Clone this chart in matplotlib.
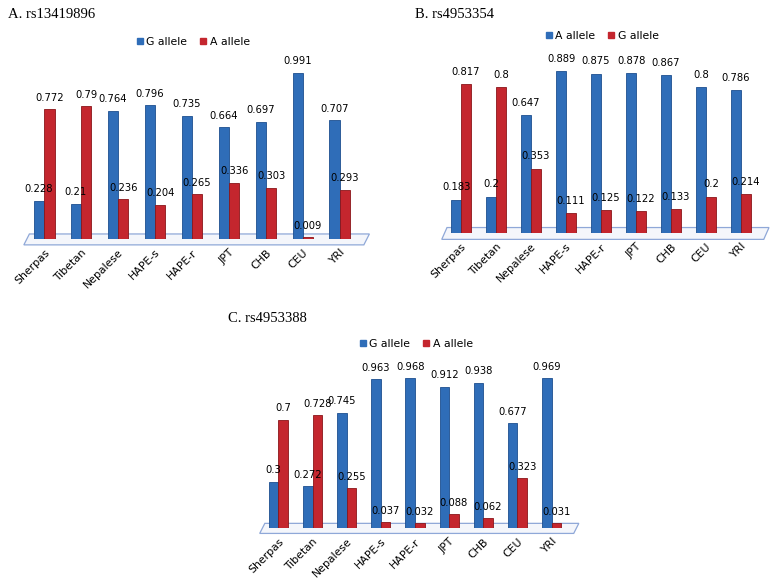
import matplotlib
matplotlib.use("Agg")
import matplotlib.pyplot as plt
from matplotlib.patches import Polygon
from matplotlib.lines import Line2D

categories = ["Sherpas", "Tibetan", "Nepalese", "HAPE-s", "HAPE-r", "JPT", "CHB", "CEU", "YRI"]

a_title = "A. rs13419896"
a_names = ["G allele", "A allele"]
a_blue = [0.228, 0.21, 0.764, 0.796, 0.735, 0.664, 0.697, 0.991, 0.707]
a_red = [0.772, 0.79, 0.236, 0.204, 0.265, 0.336, 0.303, 0.009, 0.293]

b_title = "B. rs4953354"
b_names = ["A allele", "G allele"]
b_blue = [0.183, 0.2, 0.647, 0.889, 0.875, 0.878, 0.867, 0.8, 0.786]
b_red = [0.817, 0.8, 0.353, 0.111, 0.125, 0.122, 0.133, 0.2, 0.214]

c_title = "C. rs4953388"
c_names = ["G allele", "A allele"]
c_blue = [0.3, 0.272, 0.745, 0.963, 0.968, 0.912, 0.938, 0.677, 0.969]
c_red = [0.7, 0.728, 0.255, 0.037, 0.032, 0.088, 0.062, 0.323, 0.031]

BLUE = "#2F6DB8"
RED = "#C4262E"
W, H = 772, 586

fig = plt.figure(figsize=(W / 100, H / 100), dpi=100)
fig.patch.set_facecolor("white")


def fmt(v):
    return ("%.3f" % v).rstrip("0").rstrip(".")


def panel(rect_px, title, title_xy, names, blue, red, legend_y):
    l, r, floor, scale = rect_px
    ax = fig.add_axes([l / W, 1 - floor / H, (r - l) / W, scale / H])
    n = len(categories)
    x = list(range(n))
    bw = 0.28
    xb = [i - bw / 2 for i in x]
    xr = [i + bw / 2 for i in x]
    floor_poly = Polygon([(-0.55, -0.035), (n - 0.35, -0.035), (n - 0.2, 0.03), (-0.4, 0.03)],
                         closed=True, facecolor="#f4f6fb", edgecolor="#8fa8d8", lw=0.9,
                         zorder=0, clip_on=False)
    ax.add_patch(floor_poly)
    ax.bar(xb, blue, width=bw, color=BLUE, edgecolor="#1d4f8f", lw=0.6, zorder=2)
    ax.bar(xr, red, width=bw, color=RED, edgecolor="#8a1519", lw=0.6, zorder=2)
    for i in range(n):
        ax.text(xb[i], blue[i] + 0.04, fmt(blue[i]), ha="center", va="bottom", fontsize=7.2,
                family="DejaVu Sans", zorder=3)
        ax.text(xr[i], red[i] + 0.04, fmt(red[i]), ha="center", va="bottom", fontsize=7.2,
                family="DejaVu Sans", zorder=3)
    ax.set_xlim(-0.6, n - 0.4)
    ax.set_ylim(0, 1)
    ax.set_xticks(x)
    ax.set_xticklabels(categories, rotation=45, ha="right", rotation_mode="anchor", fontsize=7.8)
    ax.tick_params(axis="x", length=0, pad=6)
    ax.set_yticks([])
    for s in ax.spines.values():
        s.set_visible(False)
    ax.patch.set_alpha(0)
    handles = [Line2D([], [], marker="s", ls="none", color=BLUE, markersize=5),
               Line2D([], [], marker="s", ls="none", color=RED, markersize=5)]
    fig.legend(handles, names, loc="center", bbox_to_anchor=((l + r) / 2 / W, 1 - legend_y / H),
               ncol=2, frameon=False, fontsize=7.8, handletextpad=0.1, columnspacing=1.0,
               handlelength=1.0)
    fig.text(title_xy[0] / W, 1 - title_xy[1] / H, title, family="Liberation Serif", fontsize=10.5,
             ha="left", va="center")
    return ax


panel((22, 362, 239, 168), a_title, (8, 14), a_names, a_blue, a_red, 42)
panel((440, 762, 233, 182), b_title, (415, 14), b_names, b_blue, b_red, 36)
panel((258, 572, 528, 155), c_title, (228, 318), c_names, c_blue, c_red, 344)

fig.savefig("out.png", dpi=100)
